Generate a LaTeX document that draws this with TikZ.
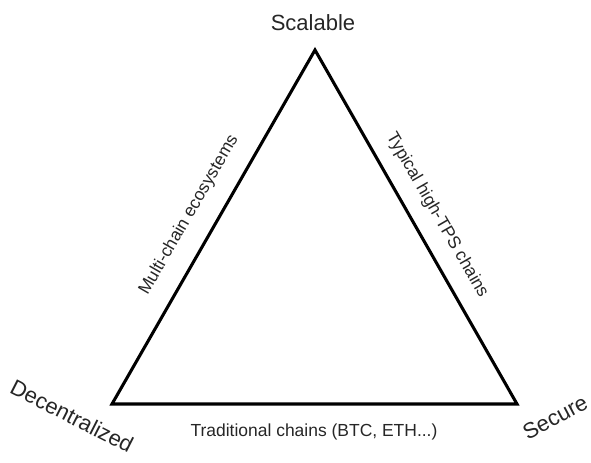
\documentclass[tikz,border=0pt]{standalone}
\usepackage{fontspec}
\setmainfont{Liberation Sans}
\begin{document}
\begin{tikzpicture}[x=0.75pt,y=0.75pt,
  vertexlabel/.style={inner sep=0pt,font=\fontsize{16.5}{19}\selectfont,text=black!85},
  sidelabel/.style={inner sep=0pt,font=\fontsize{13.1}{15}\selectfont,text=black!85},
  edge/.style={line width=2.3pt,line join=miter}]
\useasboundingbox (0,0) rectangle (591,462);
\coordinate (top) at (315,412);
\coordinate (bl) at (112,58);
\coordinate (br) at (517,58);
\draw[edge] (top) -- (br) -- (bl) -- cycle;
\node[vertexlabel] (scal) at (313,439) {Scalable};
\node[vertexlabel,rotate=-27] (dec) at (72,46) {Decentralized};
\node[vertexlabel,rotate=28] (sec) at (555,45) {Secure};
\node[sidelabel,rotate=60] (multi) at (189,247) {Multi-chain ecosystems};
\node[sidelabel,rotate=-60] (tps) at (437,247) {Typical high-TPS chains};
\node[sidelabel] (trad) at (314,30) {Traditional chains (BTC, ETH...)};
\end{tikzpicture}
\end{document}
